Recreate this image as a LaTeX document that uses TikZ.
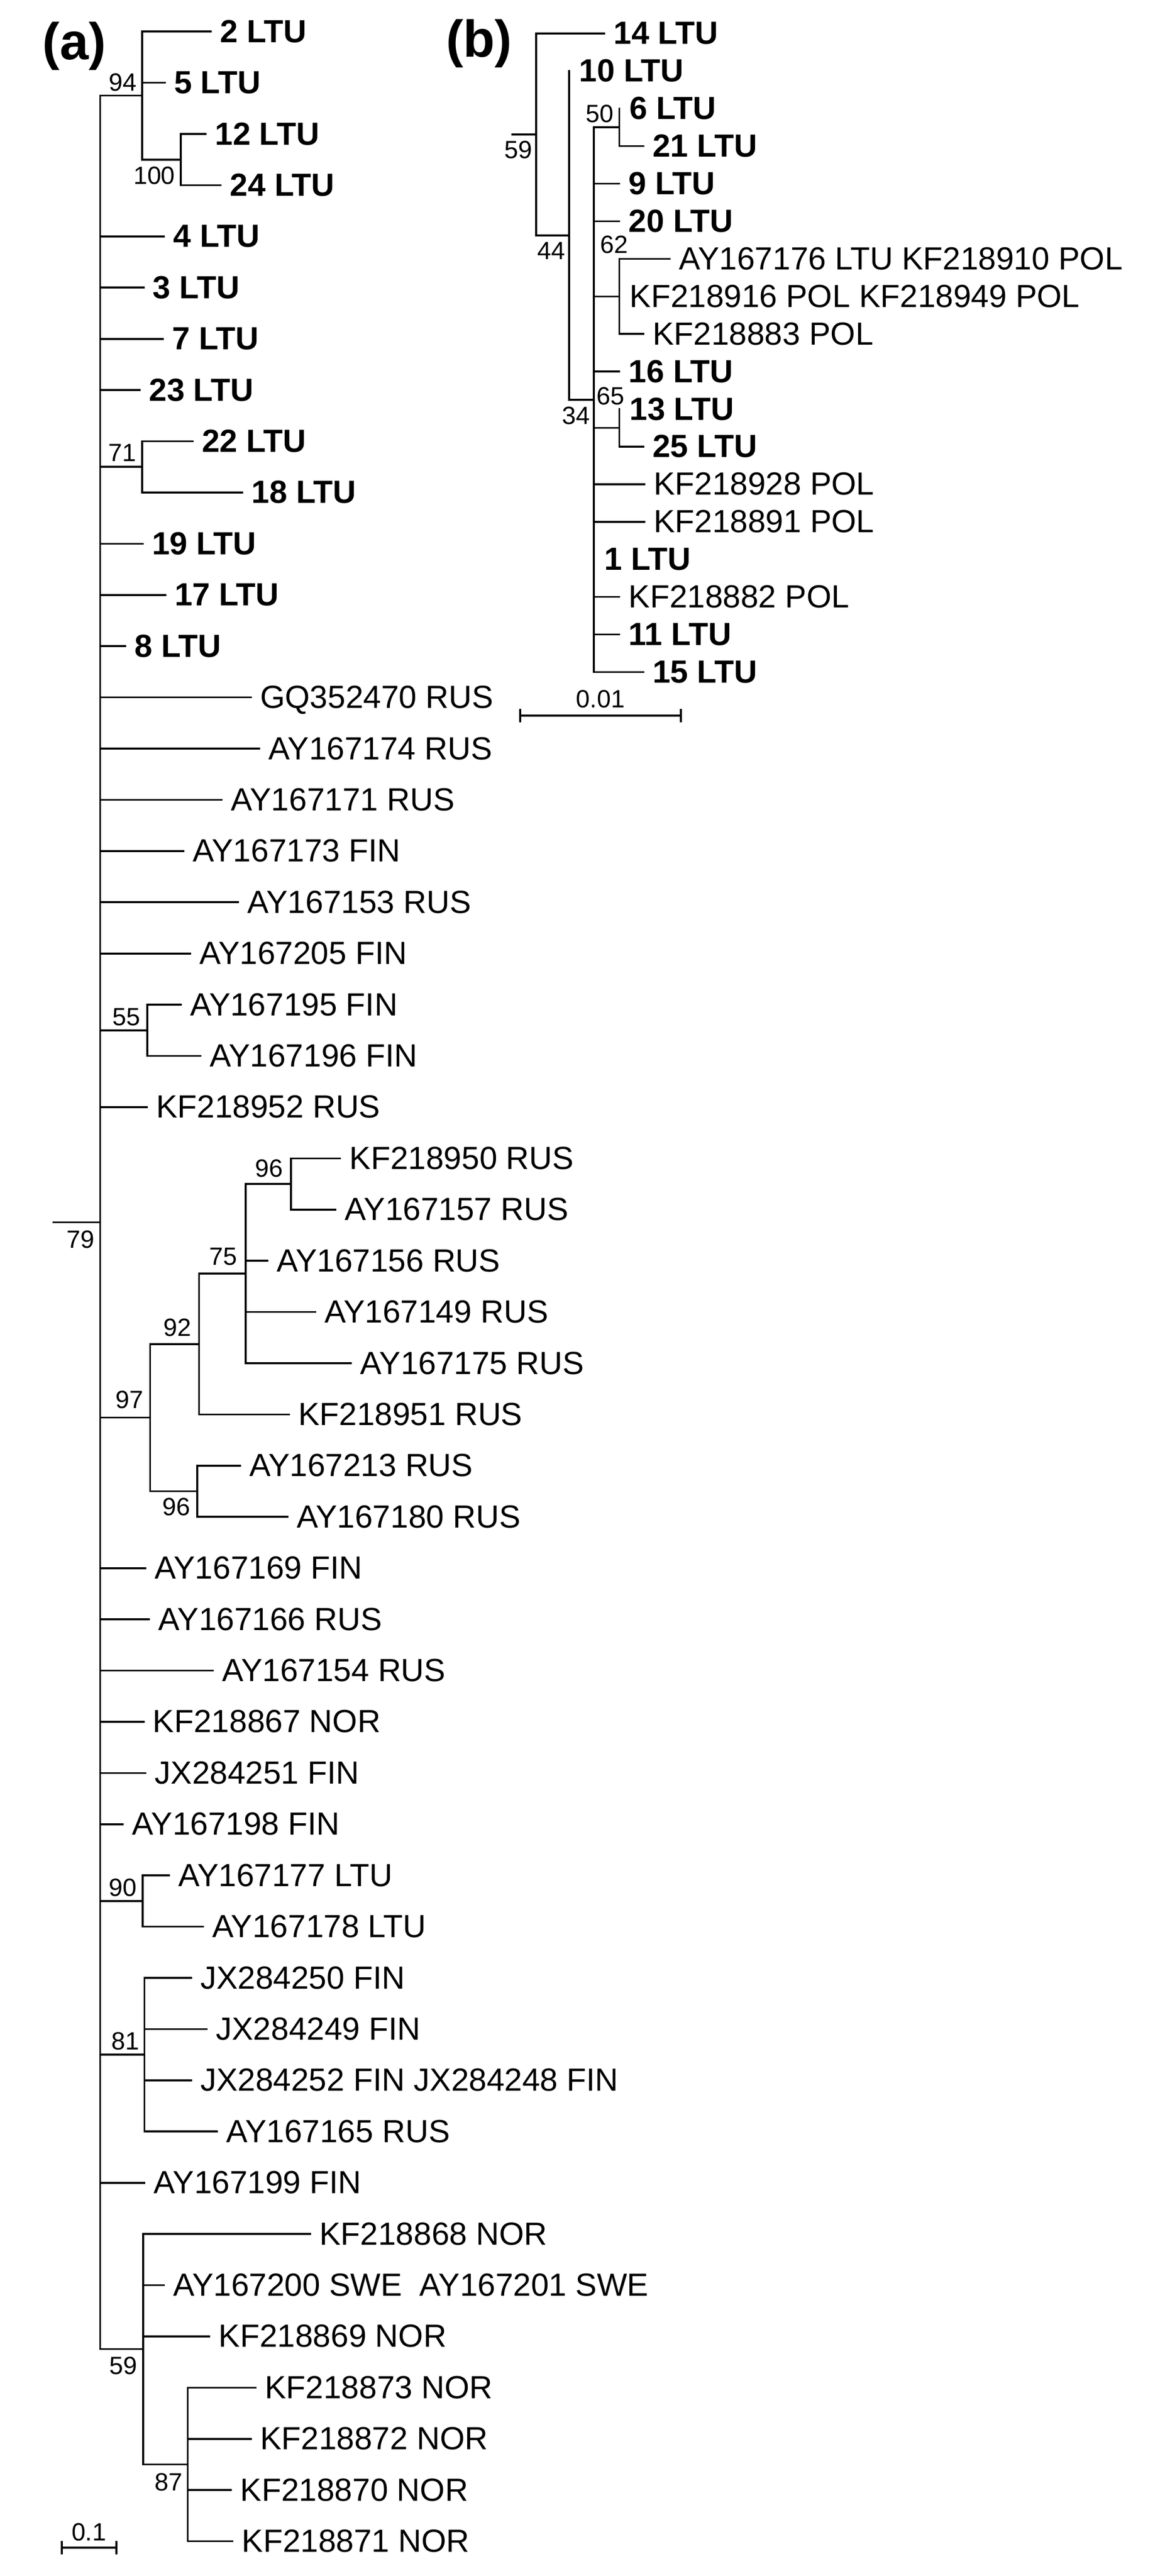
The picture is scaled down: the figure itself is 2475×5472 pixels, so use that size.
\documentclass[tikz,border=0pt]{standalone}
\usepackage{fontspec}
\setmainfont{Liberation Sans}
\newcommand\RA[1]{67+(#1-1)*108.8}
\newcommand\RB[1]{71+#1*79.8}
% leaf: name, parent, tip x, y, text, style
\newcommand\lf[6]{\coordinate (#1) at (#3,{#4}); \draw (#1 -| #2) -- (#1); \node[#6] (#1t) at ({#3+18},{#4+23}) {#5};}
% zero-length leaf: name, x, y, text, style
\newcommand\zl[5]{\coordinate (#1) at (#2,{#3}); \node[#5] (#1t) at ({#2+20},{#3+23}) {#4};}
% internal node: name, parent, x, y
\newcommand\inn[4]{\coordinate (#1) at (#3,{#4}); \draw (#1 -| #2) -- (#1);}
\newcommand\vl[3]{\draw (#1 |- #2) -- (#1 |- #3);}
\begin{document}
\begin{tikzpicture}[x=0.2pt,y=-0.2pt,line width=0.8pt,line cap=rect,
 tl/.style={anchor=base west,inner sep=0,font=\fontsize{13.6}{16}\selectfont},
 tb/.style={anchor=base west,inner sep=0,font=\fontsize{13.6}{16}\selectfont\bfseries},
 bs/.style={inner sep=0,font=\fontsize{10.6}{12}\selectfont},
 ab/.style={bs,anchor=south east},
 be/.style={bs,anchor=north east},
 pl/.style={inner sep=0,font=\fontsize{22}{26}\selectfont\bfseries}]
\fill[white] (0,0) rectangle (2475,5472);
\useasboundingbox (0,0) rectangle (2475,5472);
\node[pl] (la) at (158,98) {(a)};
\node[pl] (lb) at (1018,93) {(b)};
% ---------- tree (a)
\coordinate (root) at (213,2596.6);
\coordinate (rootstub) at (114,2596.6);
\draw (rootstub) -- (root);
\node[be] (b79) at (203,2612) {79};
\inn{n94}{root}{302}{203}
\lf{a1}{n94}{448}{\RA{1}}{2 LTU}{tb}
\lf{a2}{n94}{350}{\RA{2}}{5 LTU}{tb}
\inn{n100}{n94}{384}{339}
\lf{a3}{n100}{437}{\RA{3}}{12 LTU}{tb}
\lf{a4}{n100}{469}{\RA{4}}{24 LTU}{tb}
\vl{n100}{a3}{a4}
\vl{n94}{a1}{n100}
\lf{a5}{root}{348}{\RA{5}}{4 LTU}{tb}
\lf{a6}{root}{305}{\RA{6}}{3 LTU}{tb}
\lf{a7}{root}{346}{\RA{7}}{7 LTU}{tb}
\lf{a8}{root}{297}{\RA{8}}{23 LTU}{tb}
\inn{n71}{root}{302}{991.8}
\lf{a9}{n71}{409}{\RA{9}}{22 LTU}{tb}
\lf{a10}{n71}{515}{\RA{10}}{18 LTU}{tb}
\vl{n71}{a9}{a10}
\lf{a11}{root}{303}{\RA{11}}{19 LTU}{tb}
\lf{a12}{root}{351}{\RA{12}}{17 LTU}{tb}
\lf{a13}{root}{266}{\RA{13}}{8 LTU}{tb}
\lf{a14}{root}{533}{\RA{14}}{GQ352470 RUS}{tl}
\lf{a15}{root}{551}{\RA{15}}{AY167174 RUS}{tl}
\lf{a16}{root}{471}{\RA{16}}{AY167171 RUS}{tl}
\lf{a17}{root}{390}{\RA{17}}{AY167173 FIN}{tl}
\lf{a18}{root}{506}{\RA{18}}{AY167153 RUS}{tl}
\lf{a19}{root}{404}{\RA{19}}{AY167205 FIN}{tl}
\inn{n55}{root}{313}{2188.6}
\lf{a20}{n55}{384}{\RA{20}}{AY167195 FIN}{tl}
\lf{a21}{n55}{426}{\RA{21}}{AY167196 FIN}{tl}
\vl{n55}{a20}{a21}
\lf{a22}{root}{312}{\RA{22}}{KF218952 RUS}{tl}
\inn{n97}{root}{319}{3011.2}
\inn{n92}{n97}{423}{2855}
\inn{n75}{n92}{522}{2705}
\inn{n96a}{n75}{618}{2515}
\lf{a23}{n96a}{723}{\RA{23}}{KF218950 RUS}{tl}
\lf{a24}{n96a}{713}{\RA{24}}{AY167157 RUS}{tl}
\vl{n96a}{a23}{a24}
\lf{a25}{n75}{568}{\RA{25}}{AY167156 RUS}{tl}
\lf{a26}{n75}{670}{\RA{26}}{AY167149 RUS}{tl}
\lf{a27}{n75}{746}{\RA{27}}{AY167175 RUS}{tl}
\vl{n75}{n96a}{a27}
\lf{a28}{n92}{614}{\RA{28}}{KF218951 RUS}{tl}
\vl{n92}{n75}{a28}
\inn{n96b}{n97}{419}{3167.8}
\lf{a29}{n96b}{510}{\RA{29}}{AY167213 RUS}{tl}
\lf{a30}{n96b}{611}{\RA{30}}{AY167180 RUS}{tl}
\vl{n96b}{a29}{a30}
\vl{n97}{n92}{n96b}
\lf{a31}{root}{309}{\RA{31}}{AY167169 FIN}{tl}
\lf{a32}{root}{317}{\RA{32}}{AY167166 RUS}{tl}
\lf{a33}{root}{452}{\RA{33}}{AY167154 RUS}{tl}
\lf{a34}{root}{305}{\RA{34}}{KF218867 NOR}{tl}
\lf{a35}{root}{309}{\RA{35}}{JX284251 FIN}{tl}
\lf{a36}{root}{261}{\RA{36}}{AY167198 FIN}{tl}
\inn{n90}{root}{303}{4038.2}
\lf{a37}{n90}{359}{\RA{37}}{AY167177 LTU}{tl}
\lf{a38}{n90}{431}{\RA{38}}{AY167178 LTU}{tl}
\vl{n90}{a37}{a38}
\inn{n81}{root}{307}{4364.6}
\lf{a39}{n81}{406}{\RA{39}}{JX284250 FIN}{tl}
\lf{a40}{n81}{439}{\RA{40}}{JX284249 FIN}{tl}
\lf{a41}{n81}{406}{\RA{41}}{JX284252 FIN JX284248 FIN}{tl}
\lf{a42}{n81}{461}{\RA{42}}{AY167165 RUS}{tl}
\vl{n81}{a39}{a42}
\lf{a43}{root}{307}{\RA{43}}{AY167199 FIN}{tl}
\inn{n59}{root}{304}{4990}
\lf{a44}{n59}{659}{\RA{44}}{KF218868 NOR}{tl}
\lf{a45}{n59}{348}{\RA{45}}{AY167200 SWE\hspace{0.55em}AY167201 SWE}{tl}
\lf{a46}{n59}{445}{\RA{46}}{KF218869 NOR}{tl}
\inn{n87}{n59}{399}{5235}
\lf{a47}{n87}{543}{\RA{47}}{KF218873 NOR}{tl}
\lf{a48}{n87}{533}{\RA{48}}{KF218872 NOR}{tl}
\lf{a49}{n87}{491}{\RA{49}}{KF218870 NOR}{tl}
\lf{a50}{n87}{494}{\RA{50}}{KF218871 NOR}{tl}
\vl{n87}{a47}{a50}
\vl{n59}{a44}{n87}
\vl{root}{n94}{n59}
% bootstrap (a)
\node[ab] at (292,196) {94};
\node[be] at (374,352) {100};
\node[ab] at (291,982) {71};
\node[ab] at (300,2181) {55};
\node[ab] at (603,2503) {96};
\node[ab] at (506,2690) {75};
\node[ab] at (408,2841) {92};
\node[ab] at (307,2994) {97};
\node[be] at (406,3180) {96};
\node[ab] at (292,4030) {90};
\node[ab] at (298,4356) {81};
\node[be] at (294,5004) {59};
\node[be] at (390,5252) {87};
% scale (a)
\coordinate (sa1) at (131,5412); \coordinate (sa2) at (247,5412);
\draw (sa1) -- (sa2);
\draw ([yshift=2.4pt]sa1) -- ([yshift=-2.4pt]sa1);
\draw ([yshift=2.4pt]sa2) -- ([yshift=-2.4pt]sa2);
\node[bs,anchor=south] (sat) at (189,5400) {0.1};
% ---------- tree (b)
\coordinate (broot) at (1139,285.5);
\coordinate (bstub) at (1089,285.5);
\draw (bstub) -- (broot);
\node[be] at (1133,297) {59};
\lf{b0}{broot}{1284}{\RB{0}}{14 LTU}{tb}
\inn{m44}{broot}{1209}{500}
\vl{broot}{b0}{m44}
\zl{b1}{1209}{\RB{1}}{10 LTU}{tb}
\inn{m34}{m44}{1262}{849}
\vl{m44}{b1}{m34}
\inn{m50}{m34}{1316}{270.5}
\zl{b2}{1316}{\RB{2}}{6 LTU}{tb}
\lf{b3}{m50}{1367}{\RB{3}}{21 LTU}{tb}
\vl{m50}{b2}{b3}
\lf{b4}{m34}{1316}{\RB{4}}{9 LTU}{tb}
\lf{b5}{m34}{1316}{\RB{5}}{20 LTU}{tb}
\inn{m62}{m34}{1316}{630}
\lf{b6}{m62}{1423}{\RB{6}}{AY167176 LTU KF218910 POL}{tl}
\zl{b7}{1316}{\RB{7}}{KF218916 POL KF218949 POL}{tl}
\lf{b8}{m62}{1367}{\RB{8}}{KF218883 POL}{tl}
\vl{m62}{b6}{b8}
\lf{b9}{m34}{1316}{\RB{9}}{16 LTU}{tb}
\inn{m65}{m34}{1316}{909}
\zl{b10}{1316}{\RB{10}}{13 LTU}{tb}
\lf{b11}{m65}{1367}{\RB{11}}{25 LTU}{tb}
\vl{m65}{b10}{b11}
\lf{b12}{m34}{1369}{\RB{12}}{KF218928 POL}{tl}
\lf{b13}{m34}{1369}{\RB{13}}{KF218891 POL}{tl}
\zl{b14}{1262}{\RB{14}}{1 LTU}{tb}
\lf{b15}{m34}{1316}{\RB{15}}{KF218882 POL}{tl}
\lf{b16}{m34}{1316}{\RB{16}}{11 LTU}{tb}
\lf{b17}{m34}{1367}{\RB{17}}{15 LTU}{tb}
\vl{m34}{m50}{b17}
\node[be] at (1203,513) {44};
\node[be] at (1256,862) {34};
\node[ab] at (1306,262) {50};
\node[ab] at (1336,540) {62};
\node[ab] at (1329,862) {65};
% scale (b)
\coordinate (sb1) at (1105,1520); \coordinate (sb2) at (1447,1520);
\draw (sb1) -- (sb2);
\draw ([yshift=2.4pt]sb1) -- ([yshift=-2.4pt]sb1);
\draw ([yshift=2.4pt]sb2) -- ([yshift=-2.4pt]sb2);
\node[bs,anchor=south] (sbt) at (1276,1506) {0.01};
\end{tikzpicture}
\end{document}
